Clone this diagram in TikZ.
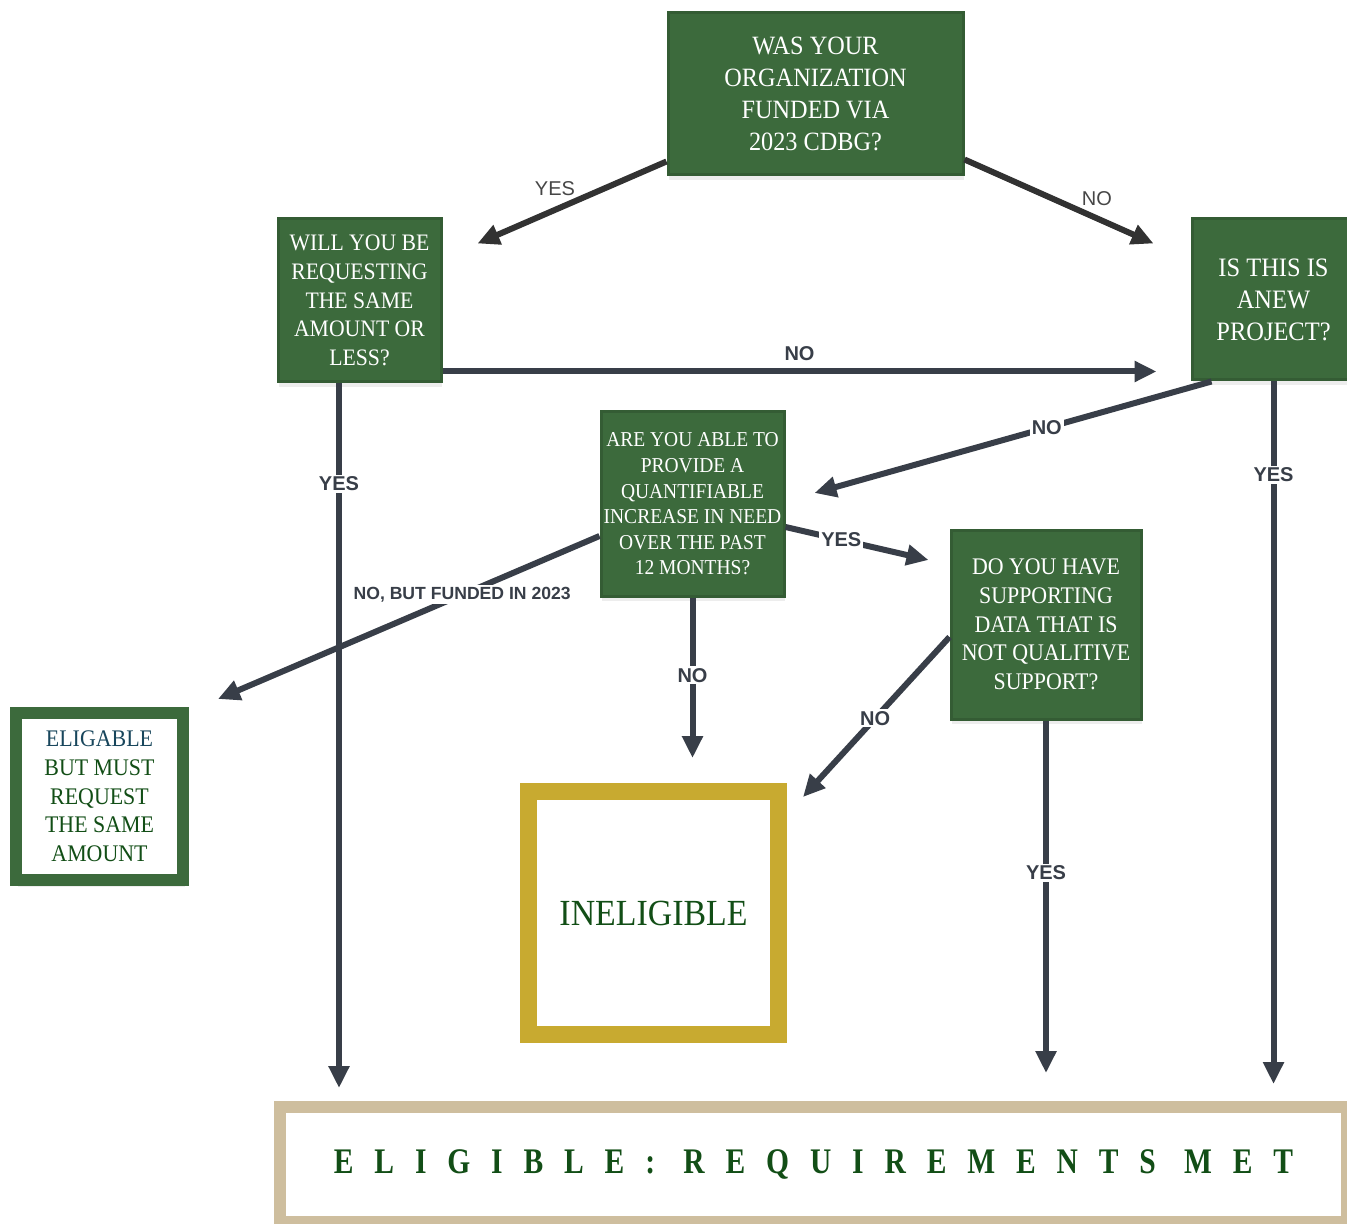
\documentclass[tikz,border=0pt]{standalone}
\usepackage{fontspec}
\setsansfont{Liberation Sans}
\newfontfamily\boxfont{Liberation Serif}[FakeStretch=0.92]
\newfontfamily\widefont{Liberation Serif}[FakeStretch=0.82,LetterSpace=58]
\usetikzlibrary{arrows.meta,shadows}

\definecolor{boxgreen}{RGB}{60,106,60}
\definecolor{boxedge}{RGB}{52,92,52}
\definecolor{arrowgray}{RGB}{56,62,72}
\definecolor{topgray}{RGB}{50,50,50}
\definecolor{gold}{RGB}{200,170,48}
\definecolor{tan}{RGB}{206,190,158}
\definecolor{textgreen}{RGB}{18,78,22}
\definecolor{textblue}{RGB}{24,70,92}

\tikzstyle{question} = [rectangle, fill=boxgreen, draw=boxedge, line width=1.5pt, text=white, align=center, inner sep=0pt, drop shadow={shadow xshift=0.5pt, shadow yshift=-2.5pt, fill=black!50, opacity=0.14}]
\tikzstyle{answer} = [rectangle, fill=white, align=center, inner sep=0pt, text=textgreen]
\tikzstyle{link} = [draw=arrowgray, line width=3pt, -{Triangle[length=11pt,width=10pt]}]
\tikzstyle{toplink} = [draw=topgray, line width=3pt, -{Triangle[length=11pt,width=10pt]}]
\tikzstyle{lbl} = [fill=white, inner sep=1pt, text=arrowgray, font=\sffamily\bfseries\fontsize{10}{12}\selectfont]
\tikzstyle{toplbl} = [text=topgray!90, font=\sffamily\fontsize{10}{12}\selectfont]

\begin{document}
\begin{tikzpicture}[x=0.5pt, y=-0.5pt]
      \useasboundingbox (0,0) rectangle (1347,1224);
      \clip (0,0) rectangle (1347,1224);
      \node[question, minimum width=147.5pt, minimum height=81pt, font=\boxfont\fontsize{13.2}{16}\selectfont] (funded) at (815.5,94) {WAS YOUR\\ORGANIZATION\\FUNDED VIA\\2023 CDBG?};
      \node[question, minimum width=81.5pt, minimum height=81.5pt, font=\boxfont\fontsize{11.8}{14.35}\selectfont] (same) at (359.5,300.5) {WILL YOU BE\\REQUESTING\\THE SAME\\AMOUNT OR\\LESS?};
      \node[question, minimum width=81.5pt, minimum height=80.5pt, font=\boxfont\fontsize{13.3}{16}\selectfont] (new) at (1273.5,299.5) {IS THIS IS\\ANEW\\PROJECT?};
      \node[question, minimum width=91.5pt, minimum height=92pt, font=\boxfont\fontsize{10.6}{12.8}\selectfont] (need) at (692.5,504) {ARE YOU ABLE TO\\PROVIDE A\\QUANTIFIABLE\\INCREASE IN NEED\\OVER THE PAST\\12 MONTHS?};
      \node[question, minimum width=95pt, minimum height=94.5pt, font=\boxfont\fontsize{11.9}{14.35}\selectfont] (data) at (1046,624.5) {DO YOU HAVE\\SUPPORTING\\DATA THAT IS\\NOT QUALITIVE\\SUPPORT?};
      \node[answer, draw=boxgreen, line width=6pt, minimum width=83.5pt, minimum height=83.5pt, font=\boxfont\fontsize{11.9}{14.35}\selectfont, drop shadow={shadow xshift=1pt, shadow yshift=-3.5pt, fill=black!50, opacity=0.14}] (must) at (99.5,796.5) {\textcolor{textblue}{ELIGABLE}\\BUT MUST\\REQUEST\\THE SAME\\AMOUNT};
      \node[answer, draw=gold, line width=8.5pt, minimum width=125pt, minimum height=121.5pt, font=\boxfont\fontsize{18.4}{22}\selectfont, drop shadow={shadow xshift=1pt, shadow yshift=-3.5pt, fill=black!50, opacity=0.14}] (inel) at (653.5,913) {INELIGIBLE};
      \node[answer, draw=tan, line width=6pt, minimum width=533.5pt, minimum height=57.5pt, font=\widefont\bfseries\fontsize{18}{20}\selectfont] (met) at (813.5,1164.5) {ELIGIBLE: REQUIREMENTS MET};
      \coordinate (sameout) at ([xshift=-10.25pt]same.south);
      \draw[toplink] ([yshift=7.5pt]funded.south west) -- ([xshift=17.5pt,yshift=-13pt]same.north east) node[toplbl, pos=.59, yshift=10.5pt] {YES};
      \draw[toplink] ([yshift=8.5pt]funded.south east) -- ([xshift=-18.5pt,yshift=-13pt]new.north west) node[toplbl, pos=.70, yshift=10pt] {NO};
      \draw[link] ([yshift=6pt]same.south east) -- ([xshift=-17pt,yshift=5pt]new.south west) node[lbl, pos=.5, yshift=9pt] {NO};
      \draw[link, shorten >=6.5pt] (sameout) -- (sameout |- met.north) node[lbl, pos=.14] {YES};
      \draw[link] ([xshift=10.5pt]new.south west) -- ([xshift=14.5pt,yshift=5.5pt]need.east) node[lbl, pos=.415] {NO};
      \draw[link, shorten >=8.5pt] (new.south) -- (new.south |- met.north) node[lbl, pos=.13] {YES};
      \draw[link] ([yshift=-11.5pt]need.east) -- ([xshift=-10.5pt,yshift=32.25pt]data.west) node[lbl, pos=.39] {YES};
      \draw[link] ([yshift=-16pt]need.west) -- ([xshift=14.5pt,yshift=4pt]must.north east) node[lbl, pos=.36, font=\sffamily\bfseries\fontsize{8.8}{10}\selectfont] {NO, BUT FUNDED IN 2023};
      \draw[link, shorten >=12.5pt] (need.south) -- (need.south |- inel.north) node[lbl, pos=.42] {NO};
      \draw[link] ([yshift=-6.25pt]data.west) -- ([xshift=8pt,yshift=-7pt]inel.north east) node[lbl, pos=.507] {NO};
      \draw[link, shorten >=14pt] (data.south) -- (data.south |- met.north) node[lbl, pos=.40] {YES};
    \end{tikzpicture}
\end{document}
